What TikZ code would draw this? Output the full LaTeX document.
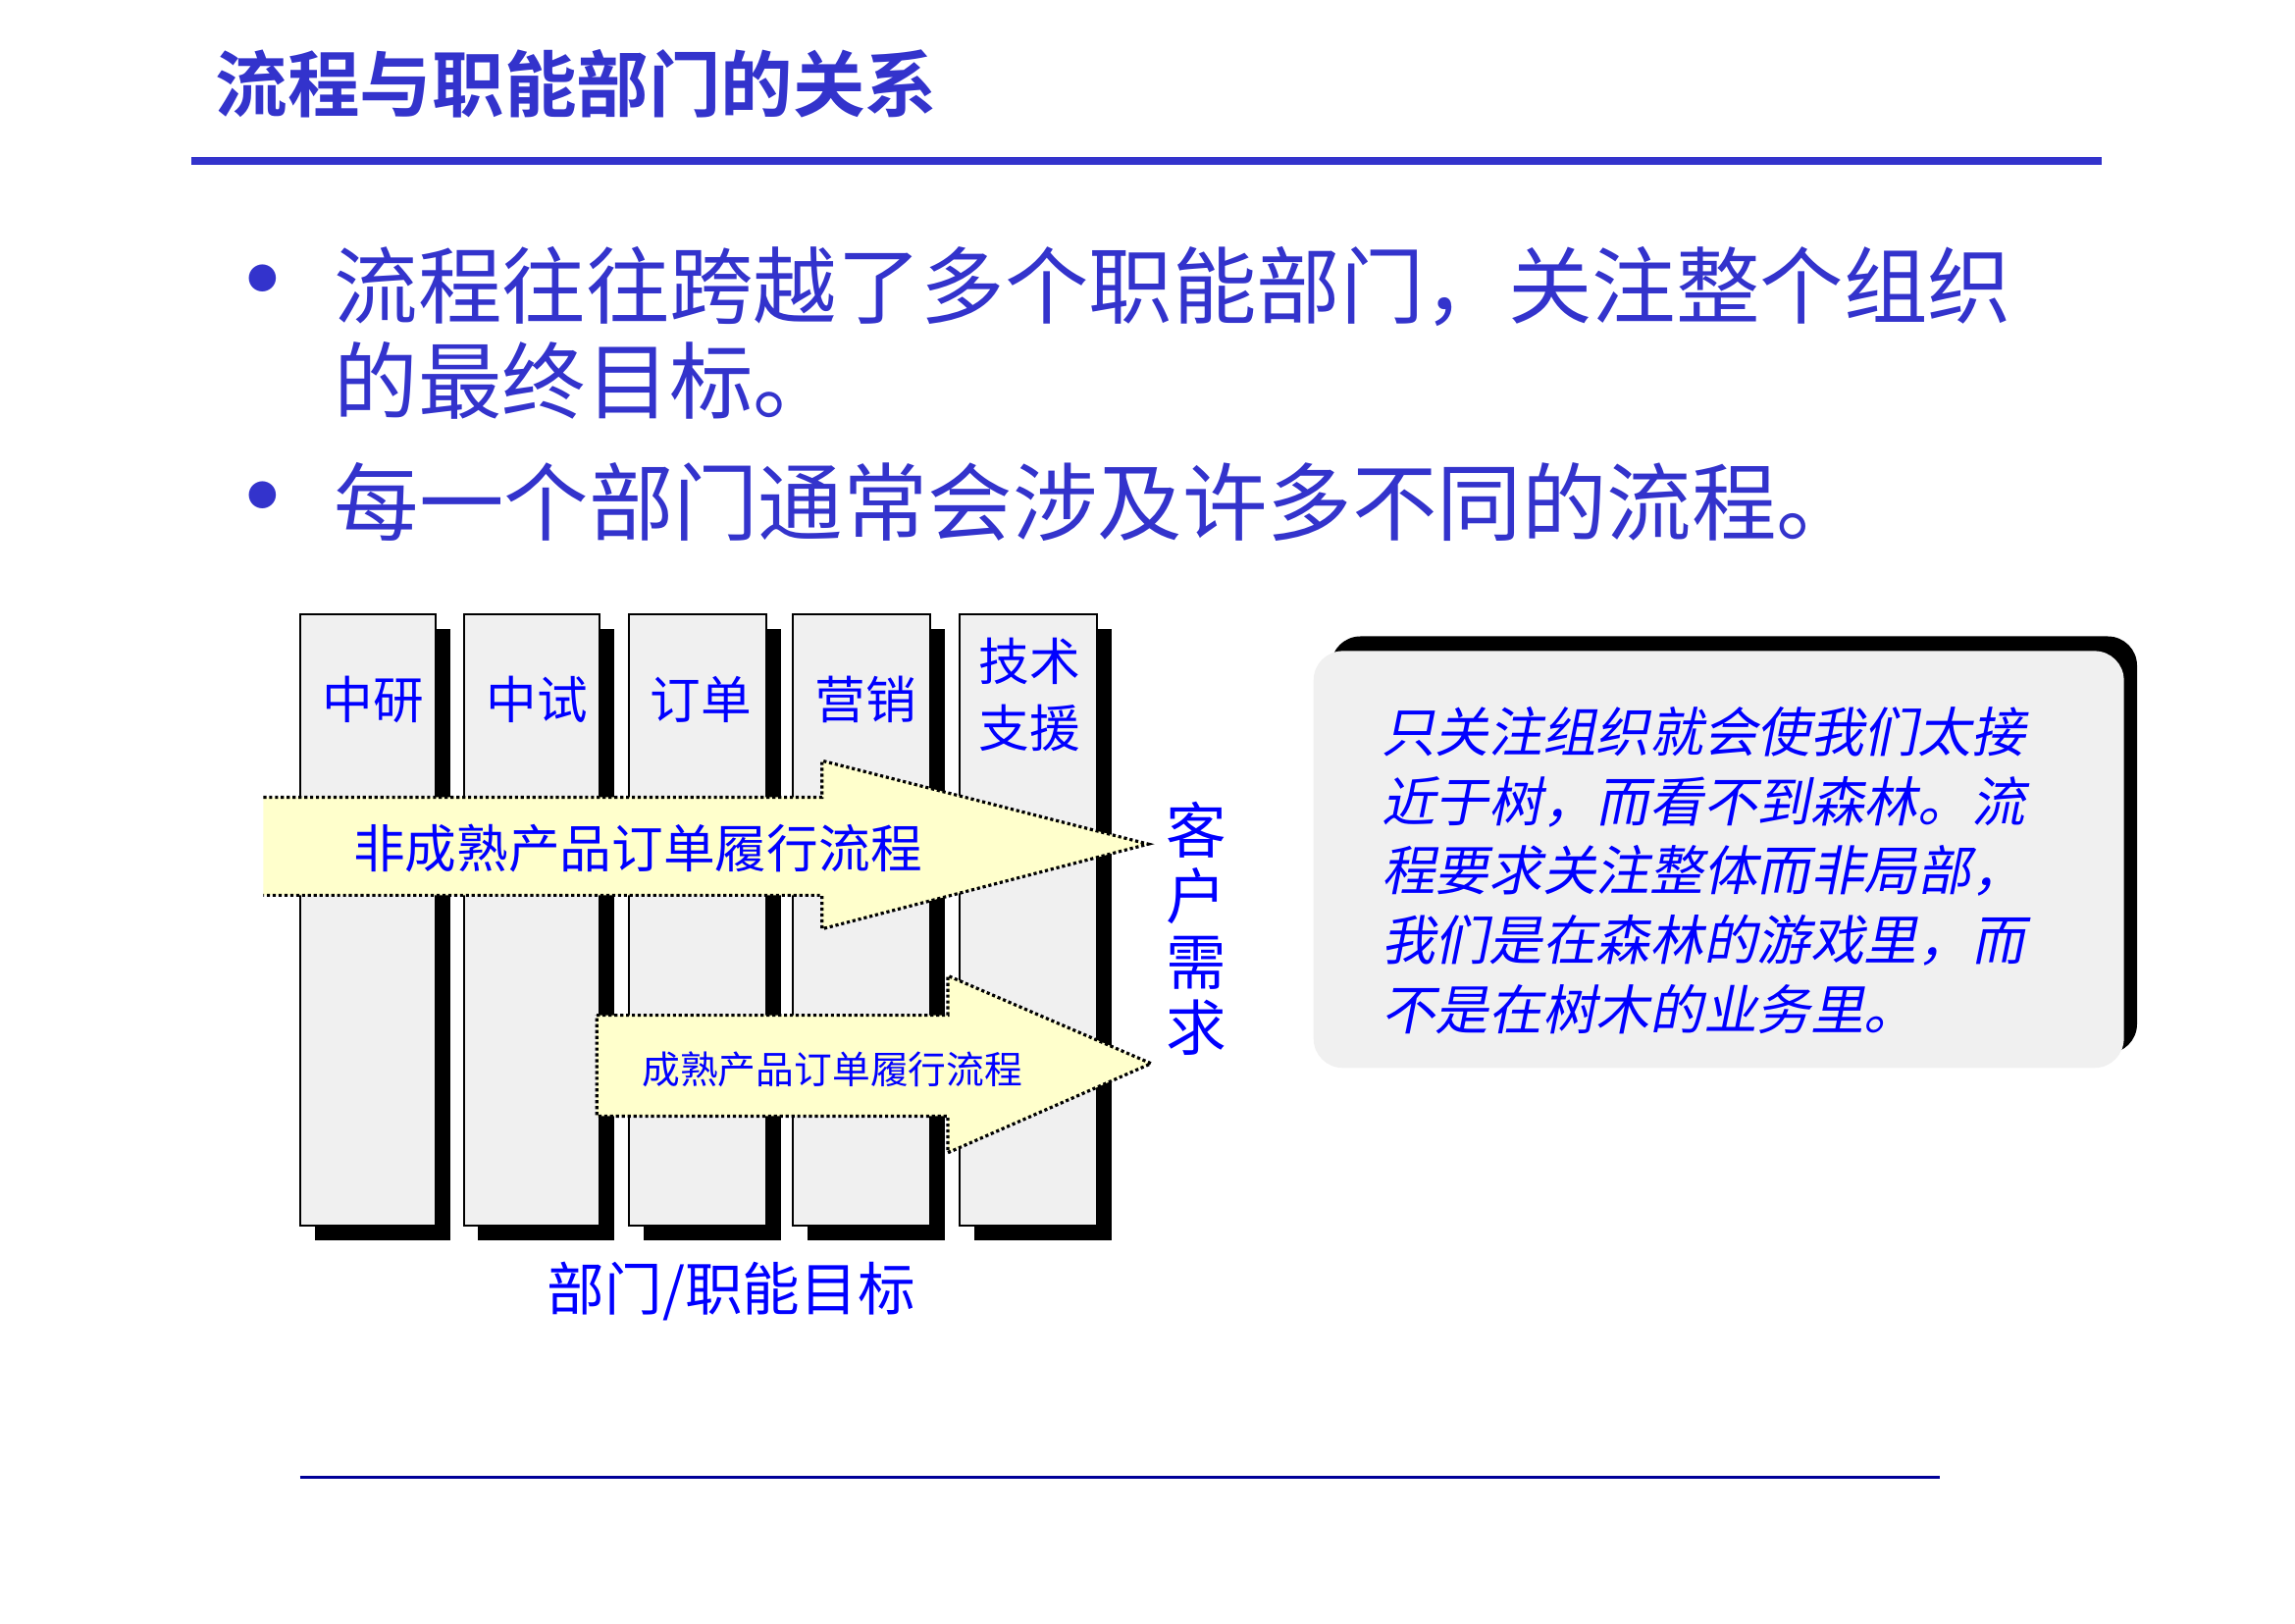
\documentclass[tikz,border=0pt]{standalone}
\usepackage{fontspec}
\newfontfamily\cjk[BoldFont={Noto Sans CJK SC Bold}]{Noto Sans CJK SC}
\newfontfamily\cjkit[FakeSlant=0.2]{Noto Sans CJK SC}
\definecolor{titleblue}{HTML}{3333CC}
\definecolor{labelblue}{HTML}{0000FF}
\definecolor{lineblue}{HTML}{000099}
\definecolor{colgray}{HTML}{F0F0F0}
\definecolor{arrowyellow}{HTML}{FFFFCC}
\tikzset{every picture/.style={line width=0.75pt}}
\tikzset{
  colbox/.style={draw=black, fill=colgray, line width=1pt},
  colshadow/.style={fill=black},
  flowborder/.style={draw=black, line width=1.6pt, dash pattern=on 1.6pt off 1.4pt},
  collabel/.style={inner sep=0pt, text=labelblue, align=center, font={\cjk\fontsize{26}{34}\selectfont}},
}

\begin{document}
\begin{tikzpicture}[x=0.75pt,y=0.75pt,yscale=-1,xscale=1]
    \path[use as bounding box] (0,0) rectangle (1569,1109.5);
    % Text Node
    \draw (147,57) node (title) [anchor=west][inner sep=0pt] [text=titleblue] [font={\cjk\bfseries\fontsize{37}{40}\selectfont}] {流程与职能部门的关系};
    %Straight Lines
    \draw [draw=titleblue, line width=4.5pt] (131,110) -- (1437,110) ;
    % Text Node
    \draw (180,197) node (dotA) [inner sep=0pt] [text=titleblue] [font={\fontsize{62}{62}\selectfont}] {\textbullet};
    % Text Node
    \draw (228,227.5) node (bulletA) [anchor=west][inner sep=0pt] [text=titleblue] [align=left] [font={\cjk\fontsize{43}{48.75}\selectfont}] {流程往往跨越了多个职能部门，关注整个组织\\的最终目标。};
    % Text Node
    \draw (180,345) node (dotB) [inner sep=0pt] [text=titleblue] [font={\fontsize{62}{62}\selectfont}] {\textbullet};
    % Text Node
    \draw (228,343) node (bulletB) [anchor=west][inner sep=0pt] [text=titleblue] [font={\cjk\fontsize{43.5}{48.75}\selectfont}] {每一个部门通常会涉及许多不同的流程。};

    %Shape: Rectangle
    \fill [colshadow] (215,430) rectangle (308,848) ;
    \draw [colbox] (205,420) rectangle (298,838) ;
    %Shape: Rectangle
    \fill [colshadow] (327,430) rectangle (420,848) ;
    \draw [colbox] (317,420) rectangle (410,838) ;
    %Shape: Rectangle
    \fill [colshadow] (440,430) rectangle (534,848) ;
    \draw [colbox] (430,420) rectangle (524,838) ;
    %Shape: Rectangle
    \fill [colshadow] (552,430) rectangle (646,848) ;
    \draw [colbox] (542,420) rectangle (636,838) ;
    %Shape: Rectangle
    \fill [colshadow] (666,430) rectangle (760,848) ;
    \draw [colbox] (656,420) rectangle (750,838) ;
    % Text Node
    \draw (255,478) node (zhongyan) [collabel] {中研};
    % Text Node
    \draw (367,478) node (zhongshi) [collabel] {中试};
    % Text Node
    \draw (479,478) node (dingdan) [collabel] {订单};
    % Text Node
    \draw (592,478) node (yingxiao) [collabel] {营销};
    % Text Node
    \draw (704,475) node (jishu) [collabel] {技术\\支援};

    %Shape: Right Arrow
    \fill [arrowyellow] (180,545) -- (562,545) -- (562,520) -- (785,577) -- (562,635) -- (562,612) -- (180,612) -- cycle ;
    \draw [flowborder] (180,545) -- (562,545) -- (562,520) -- (785,577) -- (562,635) -- (562,612) -- (180,612) ;
    % Text Node
    \draw (436,580) node (immature) [inner sep=0pt] [text=labelblue] [font={\cjk\fontsize{26.5}{30}\selectfont}] {非成熟产品订单履行流程};
    %Shape: Right Arrow
    \draw [flowborder, fill=arrowyellow] (408,694) -- (648,694) -- (648,667) -- (787,727) -- (648,788) -- (648,763) -- (408,763) -- cycle ;
    % Text Node
    \draw (569,731) node (mature) [inner sep=0pt] [text=labelblue] [font={\cjk\fontsize{19.5}{24}\selectfont}] {成熟产品订单履行流程};
    % Text Node
    \draw (818,635) node (kehu) [inner sep=0pt] [text=labelblue] [align=center] [font={\cjk\fontsize{31}{33.75}\selectfont}] {客\\户\\需\\求};
    % Text Node
    \draw (500,883) node (mubiao) [inner sep=0pt] [text=labelblue] [font={\cjk\fontsize{29.5}{32}\selectfont}] {部门/职能目标};

    %Rounded Rect
    \fill [black, rounded corners=15pt] (910,435) rectangle (1461,720) ;
    \fill [colgray, rounded corners=15pt] (898,445) rectangle (1452,730) ;
    % Text Node
    \draw (944,595) node (remark) [anchor=west][inner sep=0pt] [text=labelblue] [align=left] [font={\cjkit\fontsize{27.5}{35.6}\selectfont}] {只关注组织就会使我们太接\\近于树，而看不到森林。流\\程要求关注整体而非局部，\\我们是在森林的游戏里，而\\不是在树木的业务里。};

    %Straight Lines
    \draw [draw=lineblue, line width=1.6pt] (205,1010) -- (1326,1010) ;
\end{tikzpicture}
\end{document}
